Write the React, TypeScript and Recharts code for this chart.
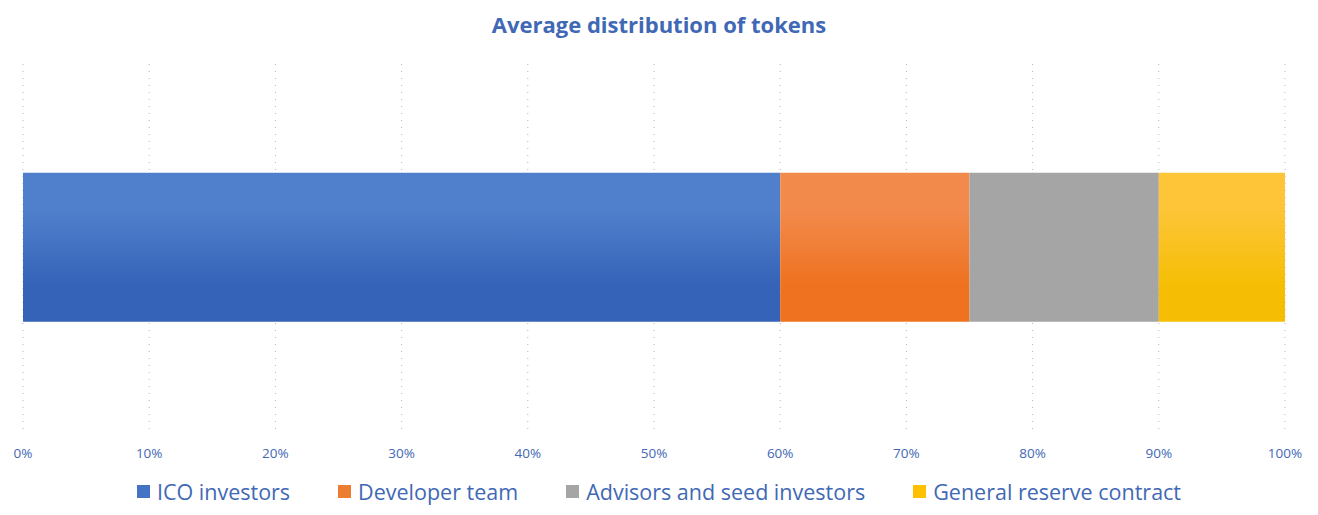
import React from 'react';
import { BarChart, Bar, XAxis, YAxis, CartesianGrid, Legend } from 'recharts';

const categories = ['Tokens'];
const seriesNames = ['ICO investors', 'Developer team', 'Advisors and seed investors', 'General reserve contract'];
const seriesKeys = ['ico', 'dev', 'adv', 'res'];
const icoValues = [60];
const devValues = [15];
const advValues = [15];
const resValues = [10];
const xTicks = [0, 10, 20, 30, 40, 50, 60, 70, 80, 90, 100];

const colorsTop = ['#5080CC', '#F28A4C', '#A5A5A5', '#FDC537'];
const colorsBottom = ['#3563B8', '#EE7220', '#A5A5A5', '#F5BE05'];
const legendColors = ['#4472C4', '#ED7D31', '#A5A5A5', '#FFC000'];

const data = categories.map((c, i) => ({
  name: c,
  ico: icoValues[i],
  dev: devValues[i],
  adv: advValues[i],
  res: resValues[i],
}));

const textColor = '#3F68B5';
const font = '"Open Sans", "Noto Sans", sans-serif';

const LegendContent = () => (
  <div style={{ display: 'flex', justifyContent: 'center', alignItems: 'center', height: 40, fontFamily: font, fontSize: 21.5, color: textColor }}>
    {seriesNames.map((n, i) => (
      <div key={n} style={{ display: 'flex', alignItems: 'center', marginRight: i < seriesNames.length - 1 ? 48 : 0 }}>
        <div style={{ width: 13, height: 13, background: legendColors[i], marginRight: 7 }} />
        <span>{n}</span>
      </div>
    ))}
  </div>
);

export default function App() {
  return (
    <div style={{ position: 'absolute', left: 0, top: 0, width: 1318, height: 515, background: '#fff' }}>
      <div style={{ position: 'absolute', top: 9, left: 0, width: 1318, textAlign: 'center', fontFamily: font, fontWeight: 700, fontSize: 22, color: textColor }}>
        Average distribution of tokens
      </div>
      <BarChart width={1318} height={515} data={data} layout="vertical" margin={{ top: 64, right: 33, left: 23, bottom: 15 }} barCategoryGap="29.7%">
        <defs>
          {seriesKeys.map((k, i) => (
            <linearGradient key={k} id={`g-${k}`} x1="0" y1="0" x2="0" y2="1">
              <stop offset="0%" stopColor={colorsTop[i]} />
              <stop offset="25%" stopColor={colorsTop[i]} />
              <stop offset="75%" stopColor={colorsBottom[i]} />
              <stop offset="100%" stopColor={colorsBottom[i]} />
            </linearGradient>
          ))}
        </defs>
        <CartesianGrid horizontal={false} vertical stroke="#B5B5B5" strokeDasharray="1 6" />
        <XAxis
          type="number"
          domain={[0, 100]}
          ticks={xTicks}
          tickFormatter={(v: number) => `${v}%`}
          axisLine={false}
          tickLine={false}
          height={30}
          interval={0}
          tick={{ fill: textColor, fontSize: 13.5, fontFamily: font }}
          tickMargin={12}
        />
        <YAxis type="category" dataKey="name" hide width={0} />
        <Legend verticalAlign="bottom" content={<LegendContent />} wrapperStyle={{ bottom: 4, left: 0, width: 1318 }} />
        {seriesKeys.map((k, i) => (
          <Bar key={k} dataKey={k} name={seriesNames[i]} stackId="a" fill={`url(#g-${k})`} isAnimationActive={false} />
        ))}
      </BarChart>
    </div>
  );
}
